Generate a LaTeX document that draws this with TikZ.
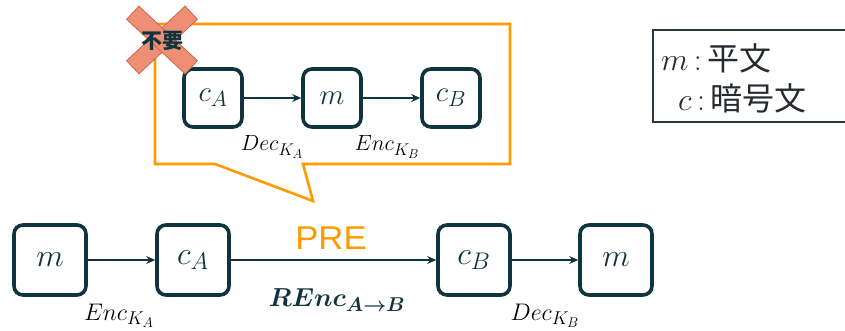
\documentclass[tikz,border=0pt]{standalone}
\usepackage{fix-cm}
\usepackage{fontspec}
\usepackage{bm}
\newfontfamily\cjk{Noto Sans CJK JP}
\newfontfamily\labelsans{Liberation Sans}
\usetikzlibrary{arrows.meta}
% larger subscripts for the label sizes in use
\DeclareMathSizes{22}{22}{17}{13}
\DeclareMathSizes{24}{24}{18.5}{14}
\DeclareMathSizes{26}{26}{20}{15}
\DeclareMathSizes{29}{29}{22}{17}
\DeclareMathSizes{32}{32}{24}{19}
\definecolor{ink}{HTML}{0F343E}
\definecolor{callout}{HTML}{FF9A00}
\definecolor{crossfill}{HTML}{EE8E74}
\definecolor{crossedge}{HTML}{D0654A}
\definecolor{legendedge}{HTML}{2B3A40}
\definecolor{legendtext}{HTML}{262A2E}
\tikzset{
  stepbox/.style={draw=ink, line width=3.6pt, rounded corners=9pt, fill=white,
    minimum width=72pt, minimum height=70pt, text=ink, inner sep=0pt,
    font=\fontsize{32}{36}\selectfont},
  smallbox/.style={stepbox, minimum width=58pt, minimum height=58pt,
    font=\fontsize{29}{33}\selectfont},
  flow/.style={draw=ink, line width=2.4pt, -{Stealth[length=9pt,width=8pt]}},
  keylabel/.style={text=black, font=\fontsize{24}{28}\selectfont, inner sep=0pt},
}
\begin{document}
\begin{tikzpicture}[x=1pt,y=-1pt]
  \useasboundingbox (0,0) rectangle (845,331);
  \clip (0,0) rectangle (845,331);

  % speech-bubble outline of the re-encryption detour
  \draw[callout, line width=2.6pt, line join=miter]
    (155,24) -- (510,24) -- (510,164) -- (303,164) -- (313,201) -- (215,164)
    -- (155,164) -- cycle;

  % detour: decrypt then encrypt again
  \node[smallbox] (ca1) at (213,98) {$c_A$};
  \node[smallbox] (m1)  at (332,98) {$m$};
  \node[smallbox] (cb1) at (451,98) {$c_B$};
  \draw[flow] (ca1) -- (m1);
  \draw[flow] (m1) -- (cb1);
  \node[keylabel, font=\fontsize{22}{26}\selectfont] (dec1) at (272,147) {$Dec_{K_A}$};
  \node[keylabel, font=\fontsize{22}{26}\selectfont] (enc1) at (387,147) {$Enc_{K_B}$};

  % crossed-out mark
  \begin{scope}[shift={(162,40)}]
    \foreach \ang in {43,-43}
      \draw[crossedge, fill=crossfill, line width=0.8pt, rotate=\ang]
        (-40,-9) rectangle (40,9);
  \end{scope}
  \node[text=ink, font=\cjk\bfseries\fontsize{21}{23}\selectfont, inner sep=0pt] (nouse) at (162,41) {不要};

  % proxy re-encryption flow
  \node[stepbox] (m0)  at (50,260)  {$m$};
  \node[stepbox] (ca0) at (193,260) {$c_A$};
  \node[stepbox] (cb0) at (474,260) {$c_B$};
  \node[stepbox] (m2)  at (616,260) {$m$};
  \draw[flow] (m0) -- (ca0);
  \draw[flow] (ca0) -- (cb0);
  \draw[flow] (cb0) -- (m2);
  \node[text=callout, font=\labelsans\fontsize{33}{36}\selectfont, inner sep=0pt, xscale=1.05] (pre) at (331,238) {PRE};
  \node[keylabel, text=ink, font=\fontsize{26}{30}\selectfont] (renc) at (337,300) {$\bm{REnc_{A\to B}}$};
  \node[keylabel] (enc0) at (119,316) {$Enc_{K_A}$};
  \node[keylabel] (dec0) at (545,316) {$Dec_{K_B}$};

  % legend
  \draw[legendedge, line width=1.4pt] (653,30) rectangle (850,122);
  \node[anchor=west, inner sep=0pt, text=legendtext, font=\fontsize{32}{36}\selectfont] (lm) at (661,58)
    {$m$\,:\,{\cjk 平文}};
  \node[anchor=west, inner sep=0pt, text=legendtext, font=\fontsize{32}{36}\selectfont] (lc) at (678,98)
    {$c$\,:\,{\cjk 暗号文}};
\end{tikzpicture}
\end{document}
